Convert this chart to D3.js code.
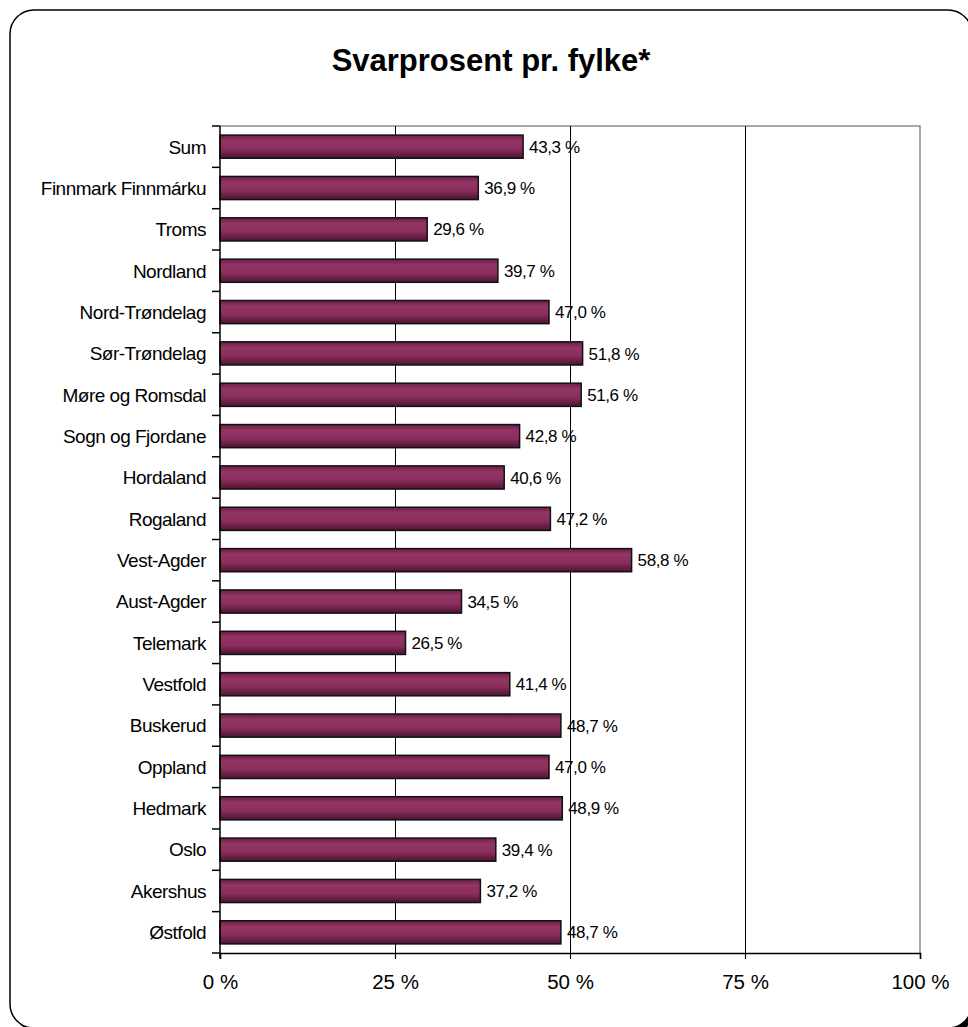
<!DOCTYPE html>
<html>
<head>
<meta charset="utf-8">
<script src="https://cdn.jsdelivr.net/npm/d3@7"></script>
<style>
  html, body { margin: 0; padding: 0; background: #fff; }
  svg { display: block; font-family: "Liberation Sans", Arial, sans-serif; }
</style>
</head>
<body>
<svg id="chart" width="968" height="1027"></svg>
<script>
// County names, top to bottom as listed in the chart
const counties = [
  "Sum", "Finnmark Finnmárku", "Troms", "Nordland", "Nord-Trøndelag",
  "Sør-Trøndelag", "Møre og Romsdal", "Sogn og Fjordane", "Hordaland",
  "Rogaland", "Vest-Agder", "Aust-Agder", "Telemark", "Vestfold",
  "Buskerud", "Oppland", "Hedmark", "Oslo", "Akershus", "Østfold"
];
// Response rate per county, in percent
const responseRate = [
  43.3, 36.9, 29.6, 39.7, 47.0,
  51.8, 51.6, 42.8, 40.6,
  47.2, 58.8, 34.5, 26.5, 41.4,
  48.7, 47.0, 48.9, 39.4, 37.2, 48.7
];
const xTicks = [0, 25, 50, 75, 100];
const title = "Svarprosent pr. fylke*";

const data = counties.map((c, i) => ({ county: c, value: responseRate[i] }));
const fmtPct = v => d3.format(".1f")(v).replace(".", ",") + " %";

const svg = d3.select("#chart");

// Rounded frame with a drop shadow
svg.append("rect")
  .attr("x", 14).attr("y", 14).attr("width", 962).attr("height", 1018)
  .attr("rx", 24).attr("fill", "#000");
svg.append("rect")
  .attr("x", 10).attr("y", 10).attr("width", 962).attr("height", 1018)
  .attr("rx", 24).attr("fill", "#fff").attr("stroke", "#000").attr("stroke-width", 1.5);

svg.append("text")
  .attr("x", 491).attr("y", 71)
  .attr("text-anchor", "middle")
  .attr("font-size", 31).attr("font-weight", "bold")
  .text(title);

const plotLeft = 220, plotRight = 920, plotTop = 126, plotBottom = 953;

const x = d3.scaleLinear().domain([0, 100]).range([plotLeft, plotRight]);
const y = d3.scaleBand().domain(counties).range([plotTop, plotBottom]).paddingInner(0.44).paddingOuter(0.22);

// Bar fill: shaded vertically like a rounded tube
const defs = svg.append("defs");
const grad = defs.append("linearGradient").attr("id", "barGrad")
  .attr("x1", 0).attr("y1", 0).attr("x2", 0).attr("y2", 1);
[["0%", "#6a1d45"], ["25%", "#923565"], ["60%", "#8b2e5d"], ["100%", "#4c1432"]]
  .forEach(([o, c]) => grad.append("stop").attr("offset", o).attr("stop-color", c));

// Plot frame: top and right edges in grey
svg.append("path")
  .attr("d", `M${plotLeft},${plotTop}H${plotRight}V${plotBottom}`)
  .attr("fill", "none").attr("stroke", "#8c8c8c").attr("stroke-width", 1.5);

// Vertical gridlines (half-pixel offset keeps them crisp)
svg.append("g").selectAll("line")
  .data(xTicks.filter(t => t > 0 && t < 100))
  .join("line")
  .attr("x1", d => Math.round(x(d)) + 0.5).attr("x2", d => Math.round(x(d)) + 0.5)
  .attr("y1", plotTop).attr("y2", plotBottom)
  .attr("stroke", "#000").attr("stroke-width", 1);

// Bars
svg.append("g").selectAll("rect")
  .data(data)
  .join("rect")
  .attr("x", x(0))
  .attr("y", d => y(d.county))
  .attr("width", d => x(d.value) - x(0))
  .attr("height", y.bandwidth())
  .attr("fill", "url(#barGrad)")
  .attr("stroke", "#111").attr("stroke-width", 1.5);

// Value labels
svg.append("g").selectAll("text")
  .data(data)
  .join("text")
  .attr("x", d => x(d.value) + 6)
  .attr("y", d => y(d.county) + y.bandwidth() / 2)
  .attr("dy", "0.36em")
  .attr("font-size", 17)
  .attr("letter-spacing", -0.4)
  .text(d => fmtPct(d.value));

// Category axis on the left, ticks at band boundaries
const yAxis = svg.append("g").attr("transform", `translate(${plotLeft},0)`);
yAxis.append("line").attr("x1", 0).attr("x2", 0).attr("y1", plotTop).attr("y2", plotBottom + 5)
  .attr("stroke", "#000").attr("stroke-width", 1.5);
const bandEdge = i => plotTop + i * (plotBottom - plotTop) / counties.length;
yAxis.selectAll("line.tk")
  .data(d3.range(counties.length + 1))
  .join("line").attr("class", "tk")
  .attr("x1", -8).attr("x2", 0)
  .attr("y1", bandEdge).attr("y2", bandEdge)
  .attr("stroke", "#000").attr("stroke-width", 1.5);
yAxis.selectAll("text")
  .data(counties)
  .join("text")
  .attr("x", -14)
  .attr("y", d => y(d) + y.bandwidth() / 2)
  .attr("dy", "0.36em")
  .attr("text-anchor", "end")
  .attr("font-size", 19)
  .attr("letter-spacing", -0.5)
  .text(d => d);

// Value axis at the bottom
const xAxis = svg.append("g").attr("transform", `translate(0,${plotBottom})`)
  .call(d3.axisBottom(x).tickValues(xTicks).tickSize(6).tickPadding(15)
    .tickFormat(d => d + " %"));
xAxis.select(".domain").attr("stroke", "#000").attr("stroke-width", 1.5);
xAxis.selectAll(".tick line").attr("stroke", "#000").attr("stroke-width", 1.2);
xAxis.selectAll(".tick text")
  .attr("font-family", "'Liberation Sans', Arial, sans-serif")
  .attr("font-size", 20.5).attr("fill", "#000");
</script>
</body>
</html>
